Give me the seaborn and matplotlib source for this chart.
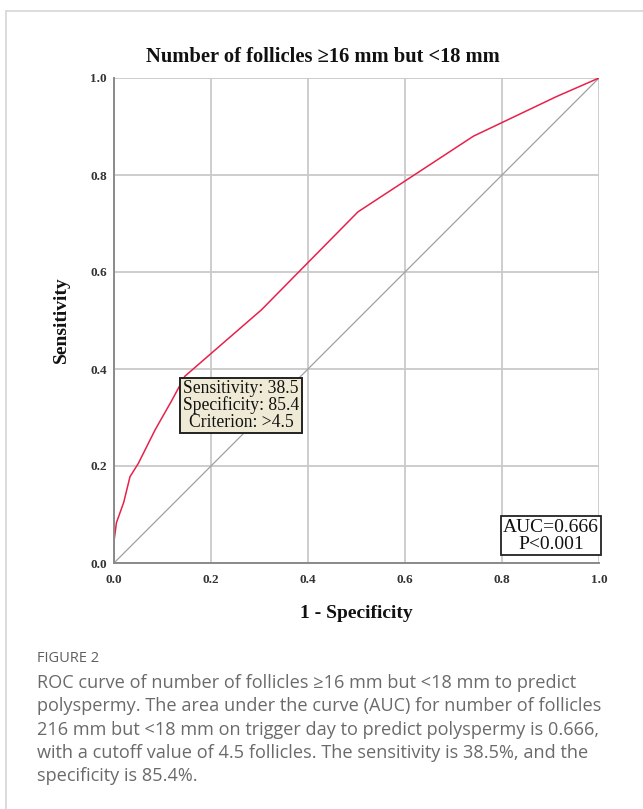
import matplotlib
matplotlib.use("Agg")
import matplotlib.pyplot as plt
from matplotlib.lines import Line2D
import seaborn as sns
import pandas as pd

# ---- data ----
fpr = [0.0, 0.0, 0.005, 0.02, 0.033, 0.05, 0.085, 0.118, 0.146, 0.304, 0.503, 0.741, 0.913, 1.0]
tpr = [0.0, 0.045, 0.083, 0.125, 0.178, 0.205, 0.275, 0.333, 0.385, 0.522, 0.724, 0.880, 0.962, 1.0]
diag = [0.0, 1.0]
ticks = [0.0, 0.2, 0.4, 0.6, 0.8, 1.0]
tick_labels = ["0.0", "0.2", "0.4", "0.6", "0.8", "1.0"]
sensitivity = 38.5
specificity = 85.4
criterion = 4.5
auc = 0.666
p_text = "P<0.001"
title = "Number of follicles \u226516 mm but <18 mm"
xlabel = "1 - Specificity"
ylabel = "Sensitivity"
fig_label = "FIGURE 2"
caption_lines = [
    "ROC curve of number of follicles \u226516 mm but <18 mm to predict",
    "polyspermy. The area under the curve (AUC) for number of follicles",
    "216 mm but <18 mm on trigger day to predict polyspermy is 0.666,",
    "with a cutoff value of 4.5 follicles. The sensitivity is 38.5%, and the",
    "specificity is 85.4%.",
]

sns.set_theme(style="white")
SERIF = ["Liberation Serif", "DejaVu Serif"]
SANS = ["Open Sans", "DejaVu Sans"]

W, H = 643, 809
fig = plt.figure(figsize=(W / 100, H / 100), dpi=100)
fig.patch.set_facecolor("white")

def fx(px):
    return px / W

def fy(py):
    return 1 - py / H

# outer frame (left and top)
fig.add_artist(Line2D([fx(5.5), fx(5.5)], [fy(10.5), 0], color="#d6d6d6", lw=1.2))
fig.add_artist(Line2D([fx(5.5), 1.0], [fy(10.5), fy(10.5)], color="#d6d6d6", lw=1.2))

L, R, T, B = 114, 599, 78, 563
ax = fig.add_axes([fx(L), fy(B), (R - L) / W, (B - T) / H])
ax.set_facecolor("white")

df_roc = pd.DataFrame({"fpr": fpr, "tpr": tpr})
df_diag = pd.DataFrame({"x": diag, "y": diag})

sns.lineplot(data=df_diag, x="x", y="y", ax=ax, color="#a0a0a0", lw=0.9,
             sort=False, estimator=None, zorder=3)
sns.lineplot(data=df_roc, x="fpr", y="tpr", ax=ax, color="#e8214a", lw=1.1,
             sort=False, estimator=None, zorder=4)

ax.set_xlim(0, 1)
ax.set_ylim(0, 1)
ax.set_xticks(ticks)
ax.set_yticks(ticks)
ax.set_xticklabels(tick_labels, fontfamily=SERIF, fontweight="bold", fontsize=9.5, color="#333333")
ax.set_yticklabels(tick_labels, fontfamily=SERIF, fontweight="bold", fontsize=9.5, color="#333333")
ax.tick_params(axis="both", length=0)
ax.tick_params(axis="x", pad=8)
ax.tick_params(axis="y", pad=5)
ax.grid(True, color="#c9c9c9", lw=1.3, zorder=1)
ax.set_axisbelow(True)
for s in ["top", "right"]:
    ax.spines[s].set_visible(False)
for s in ["left", "bottom"]:
    ax.spines[s].set_color("#8a8a8a")
    ax.spines[s].set_linewidth(1.4)
    ax.spines[s].set_zorder(5)

ax.set_xlabel("")
ax.set_ylabel("")

# annotation boxes
ax.text(0.262, 0.325,
        f"Sensitivity: {sensitivity}\nSpecificity: {specificity}\nCriterion: >{criterion}",
        ha="center", va="center", multialignment="center", fontfamily=SERIF,
        fontsize=12.7, linespacing=0.95, color="#111111", zorder=6,
        bbox=dict(boxstyle="square,pad=0.14", facecolor="#efead6", edgecolor="#222222", lw=1.4))
ax.text(0.901, 0.056, f"AUC={auc:.3f}\n{p_text}",
        ha="center", va="center", multialignment="center", fontfamily=SERIF,
        fontsize=14, linespacing=1.0, color="#111111", zorder=6, clip_on=False,
        bbox=dict(boxstyle="square,pad=0.13", facecolor="white", edgecolor="#222222", lw=1.3))

# title and axis labels
fig.text(fx(322.5), fy(57), title, ha="center", va="center", fontfamily=SERIF,
         fontweight="bold", fontsize=14.8, color="#111111")
fig.text(fx(356.5), fy(613), xlabel, ha="center", va="center", fontfamily=SERIF,
         fontweight="bold", fontsize=14, color="#111111")
fig.text(fx(61), fy(320), ylabel, ha="center", va="center", rotation=90, fontfamily=SERIF,
         fontweight="bold", fontsize=14, color="#111111")

# caption
fig.text(fx(37), fy(658), fig_label, ha="left", va="center", fontfamily=SANS,
         fontsize=10.5, color="#5f5f5f")
for i, line in enumerate(caption_lines):
    fig.text(fx(37), fy(683 + 23.3 * i), line, ha="left", va="center", fontfamily=SANS,
             fontsize=13.1, color="#6a6a6a")

fig.savefig("out.png", dpi=100, facecolor="white")
